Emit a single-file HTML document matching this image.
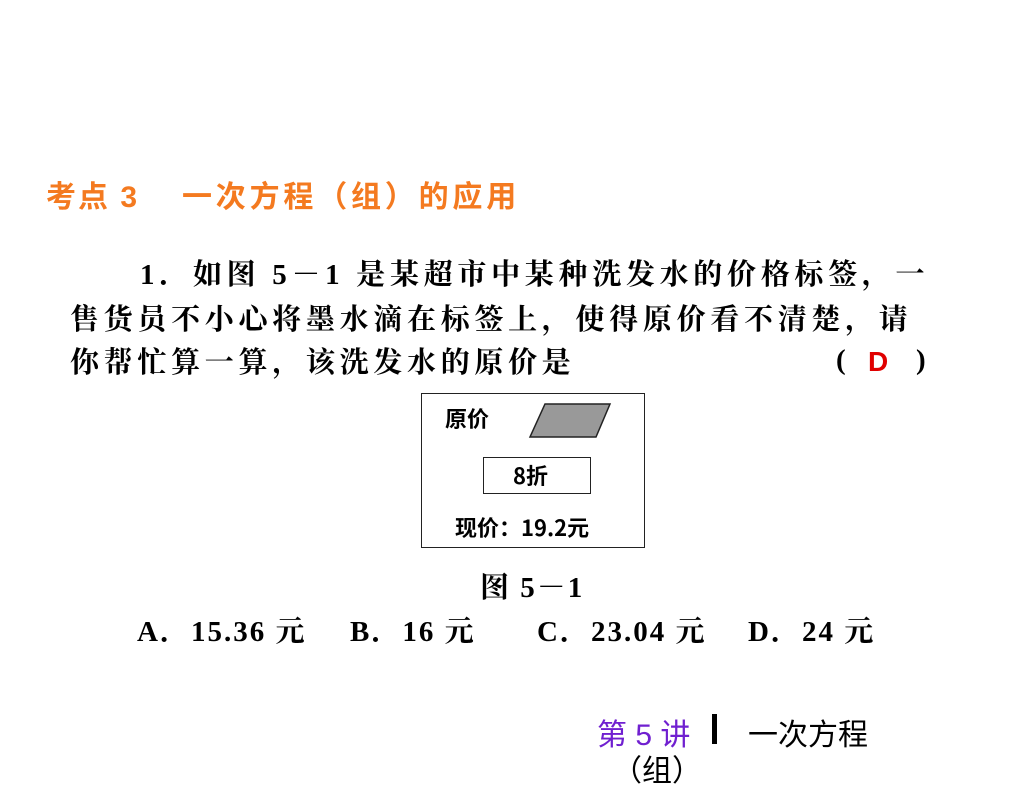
<!DOCTYPE html>
<html><head><meta charset="utf-8"><style>
body{margin:0;width:1024px;height:768px;background:#fff;position:relative;overflow:hidden;font-family:"Liberation Serif","Noto Serif CJK SC",serif;}
.t{position:absolute;white-space:nowrap;font-weight:bold;color:#000;}
.o{color:#f47a20;font-family:"Liberation Sans","Noto Sans CJK SC",sans-serif;font-size:30px;}
.b{font-size:29px;letter-spacing:4.7px;}
.c{font-size:29px;letter-spacing:2px;}
</style></head><body>
<div class="t o" style="left:46px;top:172px;letter-spacing:2px;">考点 3</div>
<div class="t o" style="left:182px;top:172px;letter-spacing:3.8px;">一次方程（组）的应用</div>
<div class="t b" style="left:140px;top:252px;">1．如图 5－1 是某超市中某种洗发水的价格标签，一</div>
<div class="t b" style="left:70px;top:297px;">售货员不小心将墨水滴在标签上，使得原价看不清楚，请</div>
<div class="t b" style="left:70px;top:340px;">你帮忙算一算，该洗发水的原价是</div>
<div class="t" style="left:836px;top:344px;font-size:29px;">(</div>
<div class="t" style="left:868px;top:346px;color:#e00000;font-family:'Liberation Sans',sans-serif;font-size:28px;">D</div>
<div class="t" style="left:916px;top:344px;font-size:29px;">)</div>
<div style="position:absolute;left:421px;top:393px;width:222px;height:153px;border:1.5px solid #222;"></div>
<div class="t" style="left:445px;top:402px;font-size:22px;font-family:'Noto Sans CJK SC',sans-serif;">原价</div>
<svg style="position:absolute;left:0;top:0" width="1024" height="768"><polygon points="545,404 610,404 596,437 530,437" fill="#999" stroke="#222" stroke-width="1.5"/></svg>
<div style="position:absolute;left:483px;top:457px;width:106px;height:35px;border:1.5px solid #222;"></div>
<div class="t" style="left:513px;top:459px;font-size:22px;font-family:'Noto Sans CJK SC',sans-serif;">8折</div>
<div class="t" style="left:455px;top:511px;font-size:22px;font-family:'Noto Sans CJK SC',sans-serif;">现价：19.2元</div>
<div class="t c" style="left:480px;top:565px;">图 5－1</div>
<div class="t c" style="left:137px;top:609px;">A．15.36 元</div>
<div class="t c" style="left:350px;top:609px;">B．16 元</div>
<div class="t c" style="left:537px;top:609px;">C．23.04 元</div>
<div class="t c" style="left:748px;top:609px;">D．24 元</div>
<div class="t" style="left:597px;top:710px;font-size:30px;font-weight:normal;color:#7020d0;font-family:'Liberation Sans','Noto Sans CJK SC',sans-serif;">第 5 讲</div>
<div style="position:absolute;left:712px;top:714px;width:5px;height:30px;background:#000;"></div>
<div class="t" style="left:748px;top:710px;font-size:30px;font-weight:normal;font-family:'Liberation Sans','Noto Sans CJK SC',sans-serif;">一次方程</div>
<div class="t" style="left:612px;top:746px;font-size:30px;font-weight:normal;font-family:'Liberation Sans','Noto Sans CJK SC',sans-serif;">（组）</div>
</body></html>
